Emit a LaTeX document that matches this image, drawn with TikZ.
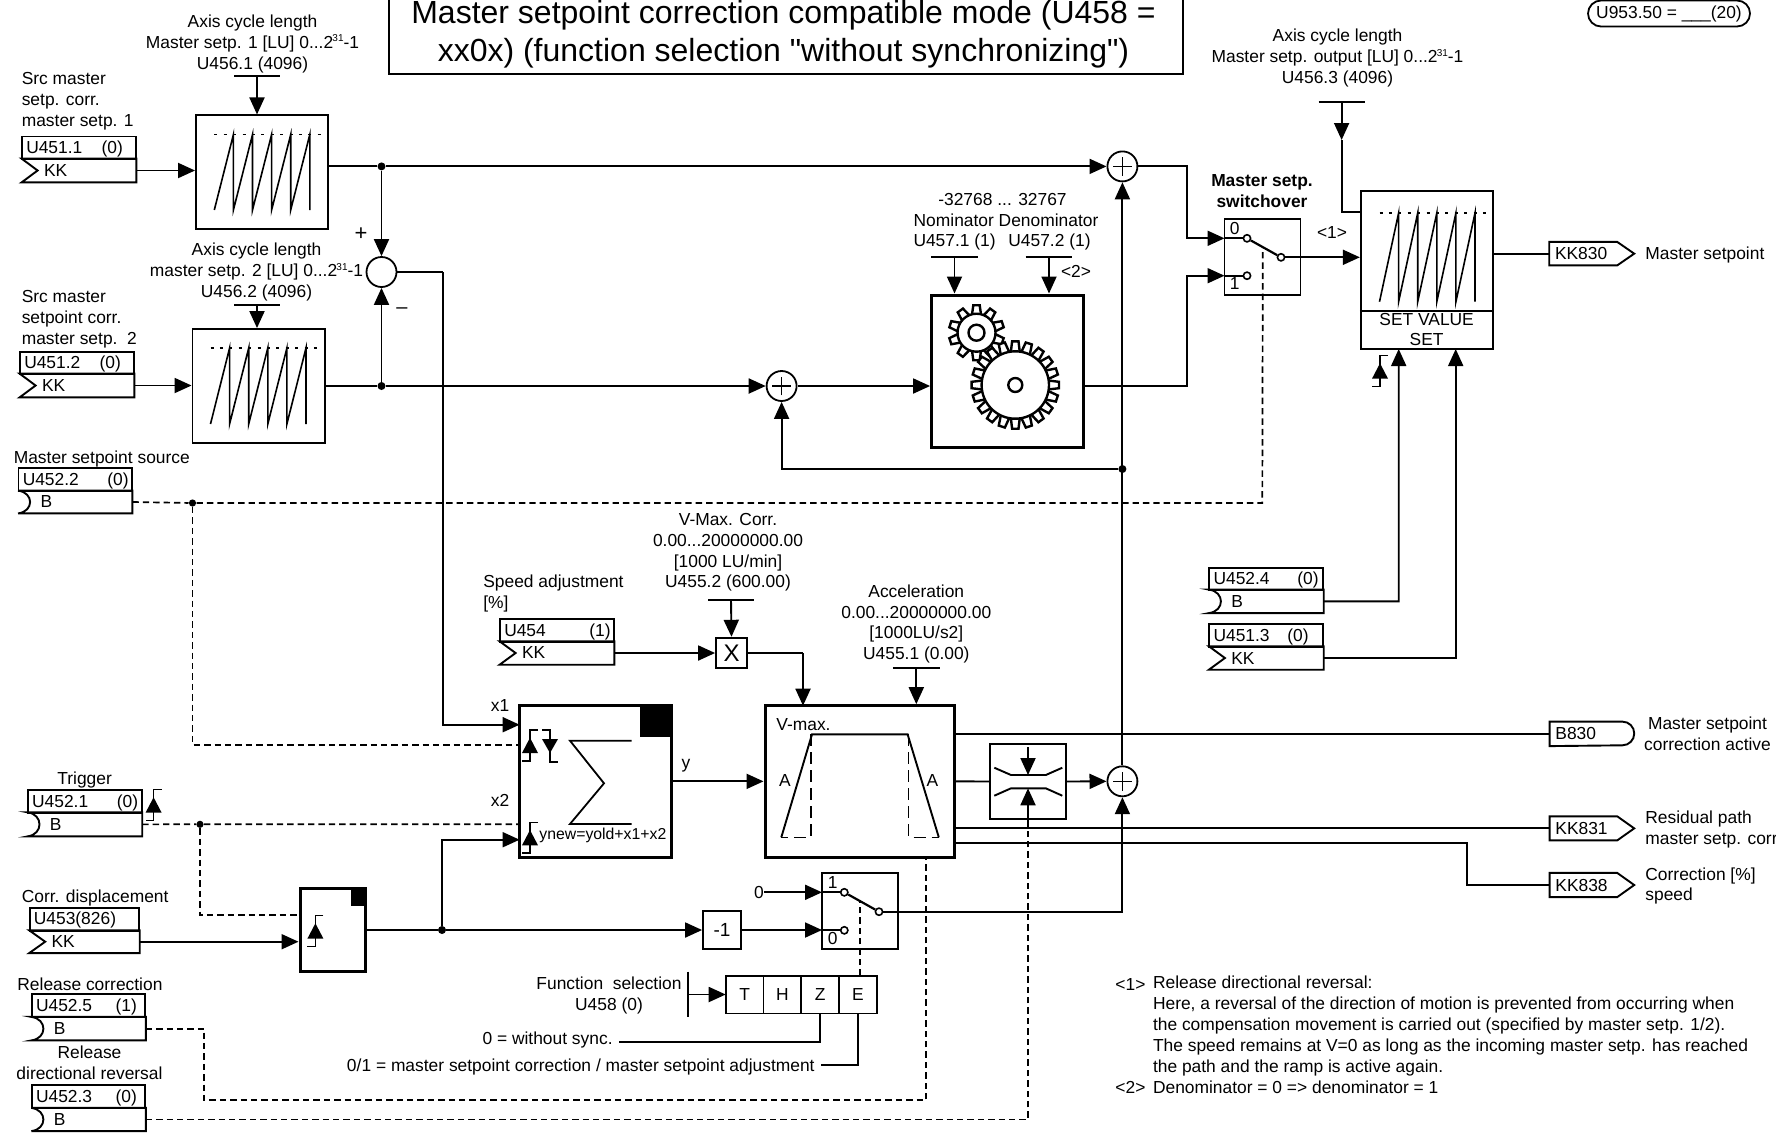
\documentclass[tikz,border=0pt]{standalone}
\usepackage{fontspec}
\setmainfont{Liberation Sans}
\newfontfamily\titlefont{Liberation Sans}
\usetikzlibrary{arrows.meta, positioning, calc, fit}

\tikzset{
    sig/.style={line width=0.95pt},
    link/.style={line width=0.95pt, -{Triangle[length=8.5pt,width=7.5pt]}},
    dashlink/.style={line width=0.85pt, dash pattern=on 3.2pt off 2pt},
    thinbox/.style={draw, line width=0.95pt},
    heavybox/.style={draw, line width=1.5pt},
    parcell/.style={draw, line width=0.95pt},
    outline/.style={line width=0.95pt},
    fine/.style={line width=0.8pt},
    contact/.style={circle, draw, fill=white, line width=0.8pt, minimum size=3.6pt},
    dotnode/.style={circle, fill=black, minimum size=4pt},
    sumnode/.style={circle, draw, fill=white, line width=0.9pt, minimum size=15pt,
        path picture={\draw[line width=0.6pt] ([xshift=-4.7pt]path picture bounding box.center) -- ([xshift=4.7pt]path picture bounding box.center)
            ([yshift=-4.7pt]path picture bounding box.center) -- ([yshift=4.7pt]path picture bounding box.center);}},
    gridcell/.style={draw, line width=0.9pt, minimum size=18.9pt, outer sep=0pt},
    gearline/.style={line width=1.2pt},
}

\newcommand{\expon}{\kern-0.4pt\raisebox{3.2pt}{\fontsize{5}{5}\selectfont 31}}
\newcommand{\parcells}[8]{
    \node[parcell, fit={(#2,#4) (#3,#5)}] (#1p) {};
    \node[anchor=west, xshift=2.4pt] (#1l) at (#1p.west) {#7};
    \node[anchor=base east] (#1v) at (#1l.base -| #1p.east) {#8};
    \node[fit={(#2,#5) (#3,#6)}] (#1) {};
}
\newcommand{\kkblock}[9][KK]{
    \parcells{#2}{#3}{#4}{#5}{#6}{#7}{#8}{#9}
    \draw[outline] (#2.north west) -- ([xshift=8pt]#2.west) -- (#2.south west) -- (#2.south east) -- (#2.north east) -- cycle;
    \node[anchor=west, xshift=11pt] (#2t) at (#2.west) {#1};
}
\newcommand{\bblock}[9][B]{
    \parcells{#2}{#3}{#4}{#5}{#6}{#7}{#8}{#9}
    \draw[outline] (#2.north west) .. controls ([xshift=8pt,yshift=-1pt]#2.north west) and ([xshift=8pt,yshift=1pt]#2.south west) .. (#2.south west) -- (#2.south east) -- (#2.north east) -- cycle;
    \node[anchor=west, xshift=11pt] (#2t) at (#2.west) {#1};
}
\newcommand{\kkout}[6]{
    \node[fit={(#2,#4) (#3,#5)}] (#1) {};
    \draw[outline] (#1.south west) -- (#1.north west) -- ([xshift=-8.5pt]#1.north east) -- (#1.east) -- ([xshift=-8.5pt]#1.south east) -- cycle;
    \node[anchor=west, xshift=2.7pt] (#1t) at (#1.west) {#6};
}
\newcommand{\parbar}[4]{
    \coordinate (#1) at (#2,#3);
    \draw[sig] ([xshift=-#4]#1) -- ([xshift=#4]#1);
}
\newcommand{\sawteeth}[3]{
    \draw[fine] (#1,#3) foreach \i in {1,...,5} { -- ({#1+19.1*\i},#2) -- ({#1+19.1*\i},#3) };
    \draw[line width=0.8pt, dash pattern=on 1.5pt off 3.2pt] (#1,#2) -- ++(108,0);
}
\newcommand{\edgerise}[2]{
    \fill (#1,#2) -- ({#1-8},{#2+15.3}) -- ({#1+8},{#2+15.3}) -- cycle;
    \draw[fine] ({#1+8},{#2-7.7}) -- (#1,{#2-7.7}) -- (#1,{#2+23}) -- ({#1-8},{#2+23});
}
\newcommand{\edgefall}[2]{
    \fill (#1,#2) -- ({#1-8},{#2-14}) -- ({#1+8},{#2-14}) -- cycle;
    \draw[fine] ({#1-8},{#2-23}) -- (#1,{#2-23}) -- (#1,{#2+9}) -- ({#1+8},{#2+9});
}
\newcommand{\gearwheel}[6]{
    \foreach \a in {1,...,#6} {
        \begin{scope}[shift={(#1,#2)}, rotate=\a*360/#6]
            \draw[gearline, fill=white] (-4.5,{-#3+1}) -- (-3.2,-#4) -- (3.2,-#4) -- (4.5,{-#3+1});
        \end{scope}
    }
    \draw[gearline, fill=white] (#1,#2) circle[radius=#3];
    \draw[gearline] (#1,#2) circle[radius=#5];
}

\begin{document}
\begin{tikzpicture}[x=0.5pt, y=-0.5pt, >=Stealth,
    every node/.style={font=\fontsize{8.7}{10.45}\selectfont, inner sep=0pt}]
    \useasboundingbox (0,0) rectangle (1776,1136);

    \node[draw, line width=0.95pt, fit={(389,-10) (1182.7,74)}] (title) {};
    \node[align=center, font=\titlefont\fontsize{16}{19.2}\selectfont] (titletxt) at (783.5,34.3) {Master setpoint correction compatible mode (U458 =\\xx0x) (function selection "without synchronizing")};
    \node[draw, line width=0.9pt, rounded corners=6.5pt, minimum width=81pt, minimum height=13pt] (ubox) at (1669,13.5) {U953.50 = \_\_\_(20)};

    \node[align=left, anchor=west] (srcatxt) at (21.4,100.9) {Src master\\setp. corr.\\master setp. 1};
    \kkblock{srca}{22}{136}{136.5}{159}{182}{U451.1}{(0)\kern6.8pt}
    \node[align=left, anchor=west] (srcbtxt) at (21.4,319.3) {Src master\\setpoint corr.\\master setp.\ \ 2};
    \kkblock{srcb}{20}{134}{352}{374}{397}{U451.2}{(0)\kern6.8pt}
    \node[anchor=west] (srcstxt) at (13.4,459) {Master setpoint source};
    \bblock{srcs}{18.5}{132}{468}{491}{513}{U452.2}{(0)\kern2pt}

    \node[align=center] (axatxt) at (252.5,43.7) {Axis cycle length\\Master setp. 1 [LU] 0...2\expon-1\\U456.1 (4096)};
    \parbar{bara}{257}{75.7}{11.5pt}
    \node[thinbox, fit={(196,115.4) (328,228.6)}] (sawa) {};
    \sawteeth{214.3}{134.6}{210}
    \node[align=center] (axbtxt) at (256.5,272.3) {Axis cycle length\\master setp. 2 [LU] 0...2\expon-1\\U456.2 (4096)};
    \parbar{barb}{257}{304.6}{11.5pt}
    \node[thinbox, fit={(192.5,329) (325,443)}] (sawb) {};
    \sawteeth{210.5}{348}{424}

    \node[dotnode] (dota) at (381.5,166.4) {};
    \node[dotnode] (dotb) at (381.5,386) {};
    \node[circle, draw, line width=0.9pt, minimum size=15pt] (diff) at (381.5,272) {};
    \node[font=\fontsize{11}{11}\selectfont] (pluslbl) at (361,234) {+};
    \node[font=\fontsize{10}{10}\selectfont] (minuslbl) at (402,310.7) {–};
    \node[sumnode] (plusa) at (1122.4,166.4) {};
    \node[sumnode] (plusb) at (781.6,386) {};
    \node[sumnode] (plusc) at (1122.4,781.3) {};

    \draw[link] (bara) -- (bara |- sawa.north);
    \draw[link] (barb) -- (barb |- sawb.north);
    \draw[link] (srca.east) -- (srca.east -| sawa.west);
    \draw[link] (srcb.east) -- (srcb.east -| sawb.west);
    \draw[sig] (sawa.east |- dota) -- (dota);
    \draw[link] (dota) -- (plusa);
    \draw[sig] (sawb.east |- dotb) -- (dotb);
    \draw[link] (dotb) -- (plusb);
    \draw[link] (dota) -- (diff);
    \draw[link] (dotb) -- (diff);

    \node[align=center] (gearlimtxt) at (1002.5,199.3) {-32768 ... 32767};
    \node (gearnamtxt) at (1006,220) {Nominator Denominator};
    \node (gearnomtxt) at (954.6,241.7) {U457.1 (1)};
    \node (geardentxt) at (1049.5,241.7) {U457.2 (1)};
    \node (noteb) at (1076,271) {<2>};
    \parbar{barc}{954.5}{257}{11.7pt}
    \parbar{bard}{1049}{257}{11.7pt}
    \node[heavybox, fit={(931.6,295) (1083.7,447)}] (gear) {};
    \gearwheel{976.5}{332.7}{19}{27.5}{8}{10}
    \gearwheel{1015.3}{385}{33.7}{43.7}{7}{20}
    \draw[link] (barc) -- (barc |- gear.north);
    \draw[link] (bard) -- (bard |- gear.north);
    \draw[link] (plusb) -- (plusb -| gear.west);

    \node[align=center, font=\fontsize{8.7}{10.45}\selectfont\bfseries] (swatxt) at (1262,191.2) {Master setp.\\switchover};
    \node[thinbox, fit={(1224.5,219.3) (1300.5,295)}] (swa) {};
    \node (swazero) at (1234.7,229) {0};
    \node (swaone) at (1234.7,284) {1};
    \coordinate (benda) at (1186.7,166.4);
    \coordinate (bendb) at (1186.7,386);
    \coordinate (armmid) at (1262.8,248);
    \draw[link] (plusa) -- (benda) |- (1224.5,238.3);
    \draw[link] (plusb -| gear.east) -- (bendb) |- (1224.5,275.7);
    \draw[sig] (1224.5,238.3) -- (1247,238.3);
    \draw[sig] (1224.5,275.7) -- (1247,275.7);
    \node[contact] (swaa) at (1247,238.3) {};
    \node[contact] (swab) at (1247,275.7) {};
    \node[contact] (swao) at (1281,257.3) {};
    \draw[line width=1.1pt] (swaa) -- (swao);
    \node (notea) at (1332,233) {<1>};

    \node[thinbox, fit={(1360.8,191) (1493.3,349)}] (sawc) {};
    \sawteeth{1379.5}{213}{301.7}
    \draw[outline] (sawc.west |- 0,311) -- (sawc.east |- 0,311);
    \node (setvaltxt) at (1426.6,319.3) {SET VALUE};
    \node (settxt) at (1426.6,339.3) {SET};
    \draw[link] (swao) -- (swao -| sawc.west);
    \node[align=center] (axctxt) at (1337.5,58.3) {Axis cycle length\\Master setp. output [LU] 0...2\expon-1\\U456.3 (4096)};
    \parbar{bare}{1341.6}{102.3}{11.5pt}
    \coordinate (bartip) at (1341.6,140);
    \draw[link] (bare) -- (bartip);
    \draw[sig] (bartip) |- (sawc.west |- 0,211.7);
    \edgerise{1380}{363.3}

    \kkout{kkmain}{1549.6}{1633.8}{242.3}{265}{KK830}
    \node[anchor=west] (kkmaintxt) at (1645,255.3) {Master setpoint};
    \draw[sig] (kkmain.west -| sawc.east) -- (kkmain.west);

    \bblock{swt}{1209.3}{1323.3}{567.7}{590}{612.7}{U452.4}{(0)\kern2.6pt}
    \kkblock{ref}{1209.3}{1323.3}{624}{646.7}{669.3}{U451.3}{(0)\kern7.6pt}
    \draw[link] (swt.east) -- (1398.7,601.3) -- (1398.7,349);
    \draw[link] (ref.east) -- (1455.7,658) -- (1455.7,349);

    \node[dotnode] (dotc) at (1122.4,469) {};
    \draw[link] (dotc) -| (plusb.south);
    \draw[link] (plusc.north) -- (plusa.south);

    \node[dotnode, minimum size=3.6pt] (dotd) at (192.5,503) {};
    \coordinate (dropd) at (1262.3,503);
    \draw[dashlink] (srcs.east) -- (dotd) -- (dropd) -- (armmid);
    \draw[dashlink] (dotd) |- (519.6,745);

    \node[align=left, anchor=west] (spdtxt) at (482.9,593.5) {Speed adjustment\\{[\%]}};
    \kkblock{spd}{500}{614}{619}{641.7}{664.3}{U454}{(1)\kern2pt}
    \node[align=center] (vmaxtxt) at (728,552.3) {V-Max. Corr.\\0.00...20000000.00\\{[1000 LU/min]}\\U455.2 (600.00)};
    \parbar{barv}{731}{599.7}{11.5pt}
    \node[draw, line width=0.9pt, minimum width=15.5pt, minimum height=15.3pt, font=\fontsize{12}{12}\selectfont] (mul) at (731.5,653) {X};
    \draw[link] (barv) -- (mul.north);
    \draw[link] (spd.east) -- (mul.west);
    \node[align=center] (acctxt) at (916.3,624) {Acceleration\\0.00...20000000.00\\{[1000LU/s2]}\\U455.1 (0.00)};
    \parbar{bara2}{916.3}{668}{11.7pt}

    \node[heavybox, fit={(519.6,705.7) (671,857)}] (sumbox) {};
    \fill (640,705.7) rectangle (671,736.7);
    \node (xatxt) at (500,706) {x1};
    \node (xbtxt) at (500,800) {x2};
    \node (ytxt) at (686,766) {y};
    \draw[line width=0.9pt] (631.6,740.7) -- (570,740.7) -- (604,783.3) -- (570,824) -- (631.6,824);
    \edgerise{530}{737.7}
    \edgefall{550}{753}
    \edgerise{530}{830}
    \node[anchor=west, font=\fontsize{7.9}{9}\selectfont] (sumtxt) at (539,835) {ynew=yold+x1+x2};

    \node[heavybox, fit={(765,705.7) (954.4,857)}] (ramp) {};
    \node[anchor=west] (vmxtxt) at (776,725) {V-max.};
    \node (rampa) at (785,780.7) {A};
    \node (rampb) at (932.4,780.7) {A};
    \draw[outline] (781.3,837.3) -- (812,734.3) -- (907.6,734.3) -- (938.8,837.3);
    \draw[fine, dash pattern=on 6pt off 3pt] (810.7,734.3) -- (810.7,837.3) -- (781.3,837.3);
    \draw[fine, dash pattern=on 6pt off 3pt] (908.5,734.3) -- (908.5,837.3) -- (938.8,837.3);
    \coordinate (rampin) at (803,705.7);
    \draw[sig] (mul.east) -- (803,653);
    \draw[link] (803,653) -- (rampin);
    \draw[link] (bara2) -- (bara2 |- ramp.north);
    \draw[link] (sumbox.east) -- (ramp.west);

    \node[thinbox, fit={(990,743.7) (1066,819.3)}] (limit) {};
    \draw[outline] (994.3,767.7) -- (1011,775) -- (1045.8,775) -- (1062.3,767.7);
    \draw[outline] (994.3,795.7) -- (1011,788.3) -- (1045.8,788.3) -- (1062.3,795.7);
    \draw[link] (1028,747) -- (1028,775);
    \draw[link] (1028,819.3) -- (1028,788.3);
    \draw[sig] (ramp.east) -- (limit.west);
    \draw[link] (limit.east) -- (plusc.west);

    \kkout{kkres}{1550}{1633.8}{816.7}{840}{KK831}
    \node[align=left, anchor=west] (kkrestxt) at (1645,829.4) {Residual path\\master setp. corr};
    \kkout{kkspd}{1550}{1633.8}{873.3}{896.7}{KK838}
    \node[align=left, anchor=west] (kkspdtxt) at (1645,886) {Correction [\%]\\speed};
    \node[fit={(1550,722) (1633.8,745.7)}] (bout) {};
    \draw[outline] (bout.south west) -- (bout.north west) -- ([xshift=-5.9pt]bout.north east) arc[start angle=-90, end angle=90, radius=11.85] -- cycle;
    \node[anchor=west, xshift=2.7pt] (boutt) at (bout.west) {B830};
    \node[align=center] (bouttxt) at (1707.5,733.5) {Master setpoint\\correction active};
    \coordinate (bendc) at (1466.6,843.3);
    \draw[sig] (ramp.east |- bout) -- (bout);
    \draw[sig] (ramp.east |- kkres) -- (kkres);
    \draw[sig] (ramp.east |- bendc) -- (bendc) |- (kkspd.west);

    \node (trgtxt) at (84.6,779.5) {Trigger};
    \bblock{trg}{27.9}{141.8}{790}{812.7}{836}{U452.1}{(0)\kern2.1pt}
    \edgerise{153.6}{797.3}
    \node[anchor=west] (dsptxt) at (21.4,898.3) {Corr. displacement};
    \kkblock{dsp}{29.6}{139.3}{908.3}{930.7}{952.7}{U453(826)}{}
    \node[anchor=west] (reltxt) at (17,983.8) {Release correction};
    \bblock{rel}{31.8}{145.4}{994.3}{1017.3}{1040}{U452.5}{(1)\kern4.5pt}
    \node[align=center] (revtxt) at (89.5,1063) {Release\\directional reversal};
    \bblock{rev}{31.8}{145.4}{1085.3}{1108.3}{1130.7}{U452.3}{(0)\kern4.5pt}

    \node[heavybox, fit={(300,888.3) (365,971.7)}] (latch) {};
    \fill (351,889) rectangle (365,905.7);
    \edgerise{315.4}{923.3}
    \node[dotnode] (dotf) at (442,930) {};
    \node[dotnode, minimum size=3.6pt] (dote) at (200,824.3) {};
    \draw[dashlink] (trg.east) -- (dote) -- (519.6,824.3);
    \draw[dashlink] (dote) |- (300,915);
    \draw[link] (dsp.east) -- (dsp.east -| latch.west);
    \draw[link] (dotf) |- (519.6,839.7);
    \draw[link] (442.8,272) -- (442.8,724.7) -- (519.6,724.7);
    \draw[sig] (diff.east) -- (442.8,272);

    \node[draw, line width=0.9pt, minimum size=19pt, font=\fontsize{9.5}{10}\selectfont] (minusone) at (722,930) {-1};
    \draw[sig] (latch.east |- dotf) -- (dotf);
    \draw[link] (dotf) -- (minusone.west);
    \node[thinbox, fit={(822,873.3) (898,949)}] (swb) {};
    \node (swbone) at (832.7,882.7) {1};
    \node (swbzero) at (832.7,938.3) {0};
    \node (zeroin) at (759,892.3) {0};
    \draw[link] (zeroin.east) -- (822,892.3);
    \draw[link] (minusone.east) -- (822,930);
    \draw[sig] (822,892.3) -- (844.3,892.3);
    \draw[sig] (822,930) -- (844.3,930);
    \node[contact] (swba) at (844.3,892.3) {};
    \node[contact] (swbb) at (844.3,930.3) {};
    \node[contact] (swbo) at (879,911.7) {};
    \draw[line width=1.1pt] (swba) -- (swbo);
    \draw[link] (swbo) -| (plusc.south);

    \node[gridcell] (celt) at (744.6,994.5) {T};
    \node[gridcell, right=0pt of celt] (celh) {H};
    \node[gridcell, right=0pt of celh] (celz) {Z};
    \node[gridcell, right=0pt of celz] (cele) {E};
    \node[align=center] (funtxt) at (609,995.4) {Function\ \ selection\\U458 (0)};
    \coordinate (barf) at (688,994.5);
    \draw[sig] (688,971.7) -- (688,1017.3);
    \draw[link] (barf) -- (celt.west);
    \node[anchor=east] (zerotxt) at (613,1040) {0 = without sync.};
    \node[anchor=east] (onetxt) at (815,1067) {0/1 = master setpoint correction / master setpoint adjustment};
    \draw[sig] (celz.south) |- ([xshift=3pt,yshift=-0.85pt]zerotxt.east);
    \draw[sig] (cele.south) |- ([xshift=3pt,yshift=1pt]onetxt.east);
    \coordinate (armb) at (860,900);
    \draw[dashlink] (cele.north -| armb) -- (armb);

    \coordinate (dropa) at (204.3,1100.3);
    \coordinate (dropb) at (926,1100.3);
    \coordinate (dropc) at (1028,1119.5);
    \draw[dashlink] (rel.east) -| (dropa) -- (dropb) -- (dropb |- ramp.south);
    \draw[dashlink] (rev.east) -- (dropc) -- (dropc |- limit.south);

    \node[anchor=west] (nta) at (1115,984.3) {<1>};
    \node[anchor=west] (ntb) at (1115,1087.7) {<2>};
    \node[anchor=west, align=left] (ntc) at (1152.6,1026) {Release directional reversal:\\Here, a reversal of the direction of motion is prevented from occurring when\\the compensation movement is carried out (specified by master setp. 1/2).\\The speed remains at V=0 as long as the incoming master setp. has reached\\the path and the ramp is active again.};
    \node[anchor=west] (ntd) at (1152.6,1087.7) {Denominator = 0 => denominator = 1};
\end{tikzpicture}
\end{document}
